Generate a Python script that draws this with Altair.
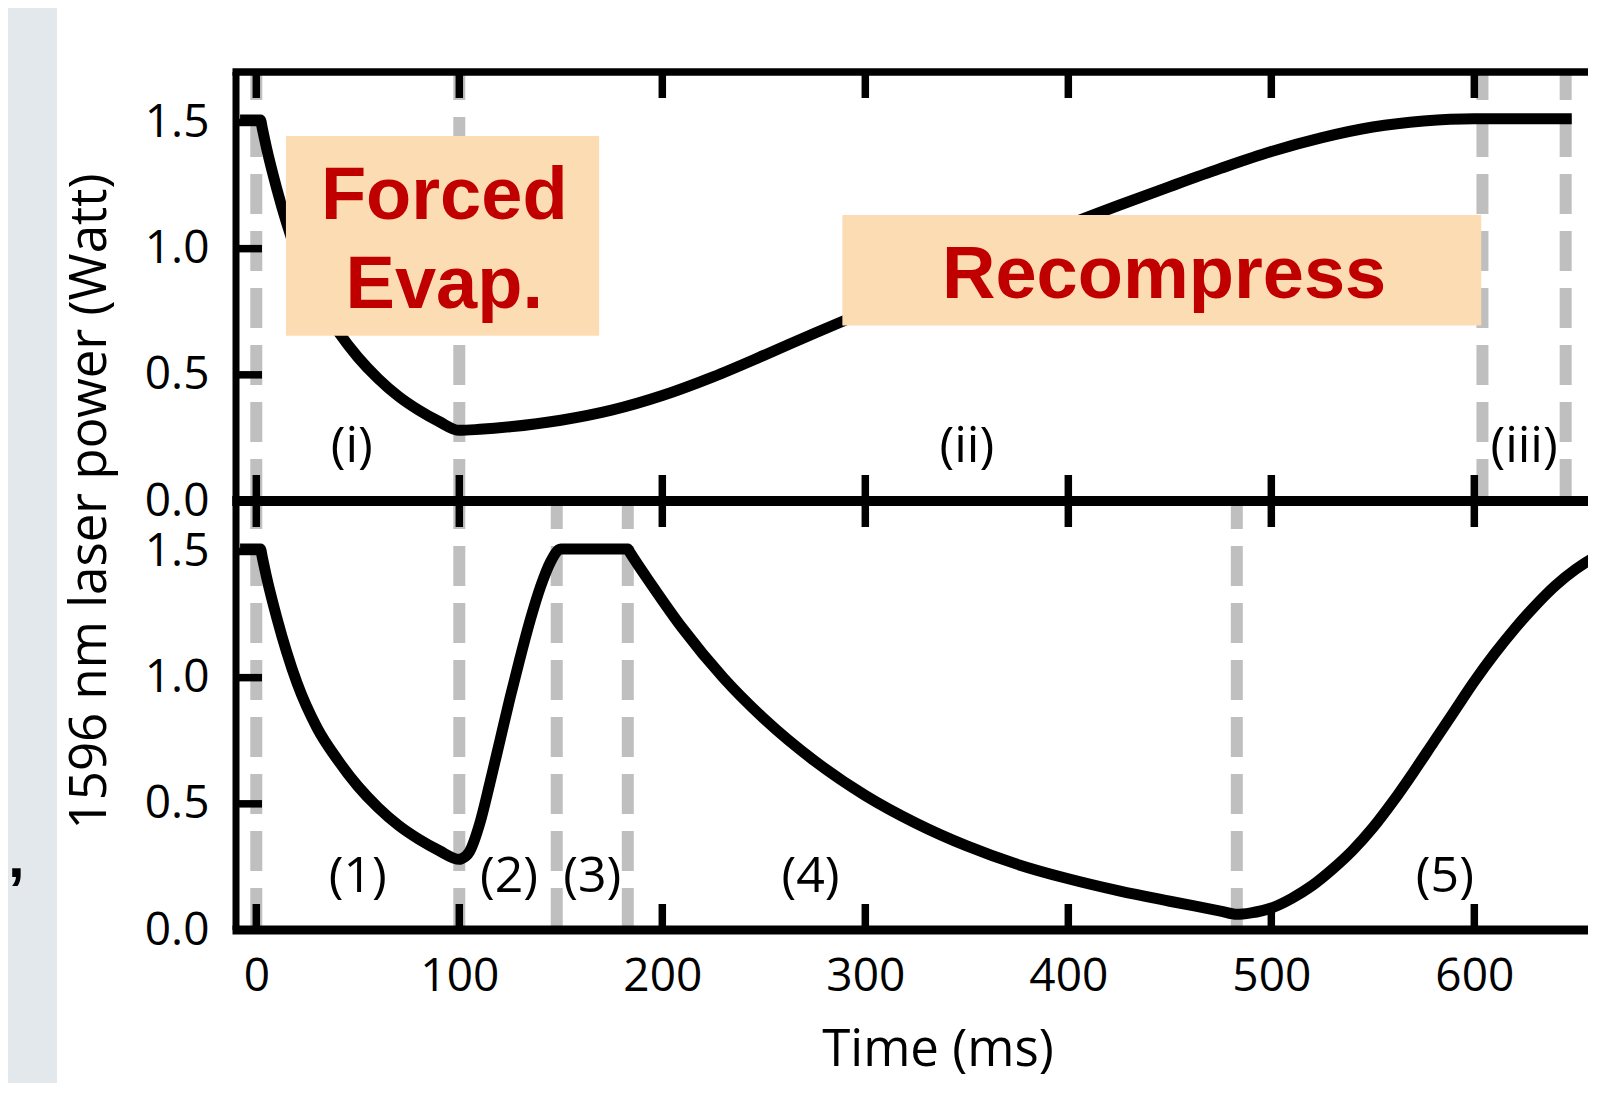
import altair as alt
import pandas as pd

# ---------------- data ----------------
x_ticks = [0, 100, 200, 300, 400, 500, 600]
y_ticks = [0.0, 0.5, 1.0, 1.5]

# (i) / (1) forced evaporation (same ramp in both panels)
evap_t = [-8, 2, 3, 5, 10, 15, 20, 30, 40, 50, 60, 70, 80, 90, 100]
evap_p = [1.51, 1.51, 1.475, 1.40, 1.24, 1.10, 0.98, 0.80, 0.675, 0.57, 0.485, 0.415, 0.36, 0.315, 0.28]

# (ii) recompress + (iii) hold  (top panel)
recomp_t = [110, 125, 150, 175, 200, 225, 250, 275, 300, 325, 350, 375, 400,
            425, 450, 475, 500, 525, 550, 575, 600, 648]
recomp_p = [0.284, 0.294, 0.32, 0.36, 0.418, 0.492, 0.577, 0.665, 0.75, 0.838, 0.926, 1.012, 1.095,
            1.172, 1.246, 1.318, 1.385, 1.44, 1.482, 1.506, 1.515, 1.515]

# bottom panel: (2) fast ramp up, (3) hold, (4) slow ramp down, (5) ramp up
ramp_t = [101, 105, 110, 115, 120, 125, 130, 135, 140, 145, 150]
ramp_p = [0.282, 0.31, 0.42, 0.58, 0.75, 0.92, 1.08, 1.23, 1.36, 1.46, 1.51]
hold_t = [183]
hold_p = [1.51]
decay_t = [184, 195, 210, 230, 250, 275, 300, 325, 350, 375, 400, 425, 450, 475, 483]
decay_p = [1.497, 1.365, 1.195, 1.0, 0.838, 0.67, 0.533, 0.423, 0.333, 0.26, 0.203, 0.155, 0.114, 0.075, 0.062]
rise_t = [490, 500, 510, 520, 530, 540, 550, 560, 570, 580, 590, 600, 610, 620, 630, 640, 650, 660, 668]
rise_p = [0.068, 0.087, 0.125, 0.175, 0.24, 0.315, 0.405, 0.51, 0.625, 0.745, 0.865, 0.985, 1.095,
          1.195, 1.285, 1.365, 1.43, 1.48, 1.505]

# dashed stage boundaries
top_dash_t = [0, 100, 604, 645]
bottom_dash_t = [0, 100, 148, 183, 483]

# stage labels
top_lab_text = ["(i)", "(ii)", "(iii)"]
top_lab_t = [47, 350, 624.5]
top_lab_p = [0.214, 0.214, 0.214]
bot_lab_text = ["(1)", "(2)", "(3)", "(4)", "(5)"]
bot_lab_t = [50, 124.5, 165.5, 273, 585.5]
bot_lab_p = [0.21, 0.21, 0.21, 0.21, 0.21]

# highlighted boxes on the top panel
box_t0 = [14.6, 288.7]
box_t1 = [168.9, 603.4]
box_p0 = [0.655, 0.695]
box_p1 = [1.446, 1.133]
box_text = ["Forced", "Evap.", "Recompress"]
box_text_t = [92.6, 92.6, 447.2]
box_text_p = [1.1175, 0.765, 0.806]

# ---------------- tables ----------------
top_df = pd.DataFrame({"t": evap_t + recomp_t, "p": evap_p + recomp_p})
bot_df = pd.DataFrame({"t": evap_t + ramp_t + hold_t + decay_t + rise_t,
                       "p": evap_p + ramp_p + hold_p + decay_p + rise_p})
top_dash_df = pd.DataFrame({"t": top_dash_t})
bot_dash_df = pd.DataFrame({"t": bottom_dash_t})
top_lab_df = pd.DataFrame({"t": top_lab_t, "p": top_lab_p, "txt": top_lab_text})
bot_lab_df = pd.DataFrame({"t": bot_lab_t, "p": bot_lab_p, "txt": bot_lab_text})
box_df = pd.DataFrame({"t": box_t0, "t1": box_t1, "p": box_p0, "p1": box_p1})
box_txt_df = pd.DataFrame({"t": box_text_t, "p": box_text_p, "txt": box_text})
xt_df = pd.DataFrame({"t": x_ticks})
yt_df = pd.DataFrame({"p": y_ticks[1:]})
one = pd.DataFrame({"a": [0]})

# ---------------- styling ----------------
W, H = 1352, 429
FONT = "Open Sans"
BAND = "#E2E8EB"
PEACH = "#FCDCB2"
DARKRED = "#C00000"
DASH = "#BFBFBF"

xs = alt.Scale(domain=[-10, 656], nice=False, zero=False)
ys = alt.Scale(domain=[0, 1.7], nice=False, zero=False)

common_axis = dict(domain=False, ticks=False, tickSize=0, grid=False, labelFont=FONT,
                   labelFontSize=46, labelColor="black", labelOverlap=False, labelFlush=False)

y_axis_top = alt.Axis(values=y_ticks, format=".1f", title=None, labelPadding=27,
                      labelBaseline="middle", **common_axis)
y_axis_bot = alt.Axis(values=y_ticks, format=".1f", labelPadding=27, labelBaseline="middle",
                      title="1596 nm laser power (Watt)", titleFont=FONT, titleFontSize=51,
                      titleFontWeight="normal", titleColor="black", titleAngle=270,
                      titleX=-131, titleY=0, titleAlign="center", titleBaseline="alphabetic",
                      **common_axis)
x_axis_bot = alt.Axis(values=x_ticks, format="d", labelPadding=24, labelBaseline="top",
                      title="Time (ms)", titleFont=FONT, titleFontSize=51,
                      titleFontWeight="normal", titleColor="black", titleX=701.5, titleY=135,
                      titleAlign="center", titleBaseline="alphabetic", **common_axis)


def make_panel(top_panel):
    xa = None if top_panel else x_axis_bot
    ya = y_axis_top if top_panel else y_axis_bot

    def X():
        return alt.X("t:Q", scale=xs, axis=xa)

    def Y():
        return alt.Y("p:Q", scale=ys, axis=ya)

    layers = []
    if top_panel:
        layers.append(alt.Chart(one).mark_rect(color=BAND).encode(
            x=alt.value(-228), x2=alt.value(-179), y=alt.value(-64), y2=alt.value(1011)))
        layers.append(alt.Chart(one).mark_text(
            text=",", font="Liberation Sans", fontWeight="bold", fontSize=60,
            align="left", baseline="alphabetic", color="black").encode(
            x=alt.value(-228), y=alt.value(805)))
    dash_df = top_dash_df if top_panel else bot_dash_df
    layers.append(alt.Chart(dash_df).mark_rule(
        color=DASH, strokeWidth=12, strokeDash=[40, 17], strokeDashOffset=12).encode(x=X()))
    curve_df = top_df if top_panel else bot_df
    layers.append(alt.Chart(curve_df).mark_line(
        color="black", strokeWidth=11, interpolate="monotone", clip=True).encode(x=X(), y=Y()))
    if top_panel:
        layers.append(alt.Chart(box_df).mark_rect(color=PEACH).encode(
            x=X(), x2="t1:Q", y=Y(), y2="p1:Q"))
        layers.append(alt.Chart(box_txt_df).mark_text(
            font="Liberation Sans", fontWeight="bold", fontSize=74, color=DARKRED,
            align="center", baseline="alphabetic").encode(x=X(), y=Y(), text="txt:N"))
    lab_df = top_lab_df if top_panel else bot_lab_df
    layers.append(alt.Chart(lab_df).mark_text(
        font=FONT, fontSize=50, color="black", align="center", baseline="middle").encode(
        x=X(), y=Y(), text="txt:N"))

    top_w, bottom_w = (7.5, 10) if top_panel else (10, 9)
    layers.append(alt.Chart(one).mark_rule(color="black", strokeWidth=top_w).encode(
        x=alt.value(-3.5), x2=alt.value(W), y=alt.value(0)))
    layers.append(alt.Chart(one).mark_rule(color="black", strokeWidth=bottom_w).encode(
        x=alt.value(-3.5), x2=alt.value(W), y=alt.value(H)))
    layers.append(alt.Chart(one).mark_rule(color="black", strokeWidth=7).encode(
        x=alt.value(0), y=alt.value(0), y2=alt.value(H)))
    layers.append(alt.Chart(xt_df).mark_rule(color="black", strokeWidth=7.5).encode(
        x=X(), y=alt.value(0), y2=alt.value(26)))
    layers.append(alt.Chart(xt_df).mark_rule(color="black", strokeWidth=7.5).encode(
        x=X(), y=alt.value(H - 26), y2=alt.value(H)))
    layers.append(alt.Chart(yt_df).mark_rule(color="black", strokeWidth=7.5).encode(
        y=Y(), x=alt.value(0), x2=alt.value(26)))
    return alt.layer(*layers).properties(width=W, height=H)


top = make_panel(True)
bottom = make_panel(False)

chart = alt.vconcat(top, bottom, spacing=0, bounds="flush").properties(
    padding=0, background="white"
).configure_view(stroke=None)

chart.save("out.html", embed_options={"renderer": "svg", "actions": False})
